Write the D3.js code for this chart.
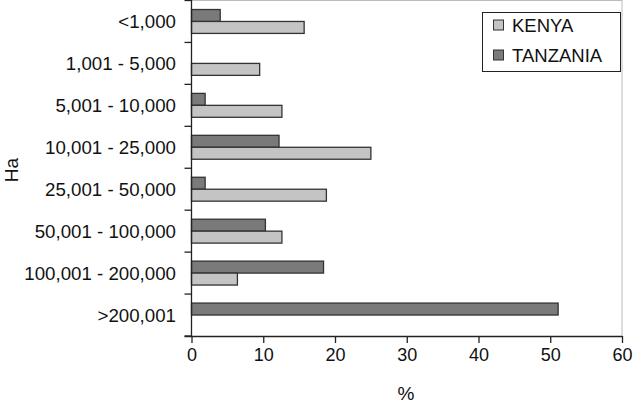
<!DOCTYPE html>
<html><head><meta charset="utf-8">
<script src="https://cdn.jsdelivr.net/npm/d3@7"></script>
<style>body{margin:0;background:#fff}svg{display:block}text{font-family:"Liberation Sans",Arial,sans-serif;fill:#111}</style>
</head><body><svg id="c" width="634" height="408"></svg>
<script>
const categories = ["<1,000","1,001 - 5,000","5,001 - 10,000","10,001 - 25,000","25,001 - 50,000","50,001 - 100,000","100,001 - 200,000",">200,001"];
const kenya = [15.7, 9.5, 12.6, 25.0, 18.8, 12.6, 6.4, 0];
const tanzania = [4.0, 0, 1.9, 12.2, 1.9, 10.3, 18.4, 51.1];
const xTicks = [0,10,20,30,40,50,60];
const seriesNames = ["KENYA","TANZANIA"];
const colors = {KENYA:"#c4c4c4", TANZANIA:"#7a7a7a"};

const svg = d3.select("#c");
const m = {l:191.5, r:622, t:0.5, b:336};
const x = d3.scaleLinear().domain([0,60]).range([m.l, m.r]);
const y = d3.scaleBand().domain(categories).range([m.t, m.b]).paddingInner(0.43).paddingOuter(0.215);
const sub = d3.scaleBand().domain(["TANZANIA","KENYA"]).range([0, y.bandwidth()]);

// plot frame (light)
svg.append("line").attr("x1",m.l).attr("x2",m.r).attr("y1",0.5).attr("y2",0.5).attr("stroke","#bbb");
svg.append("line").attr("x1",m.r).attr("x2",m.r).attr("y1",0).attr("y2",m.b).attr("stroke","#bbb");

const rows = categories.map((c,i)=>({c, KENYA:kenya[i], TANZANIA:tanzania[i]}));
const g = svg.append("g");
rows.forEach(r=>{
  ["TANZANIA","KENYA"].forEach(s=>{
    if (r[s] <= 0) return;
    g.append("rect").attr("x",x(0)).attr("y",y(r.c)+sub(s))
     .attr("width",x(r[s])-x(0)).attr("height",sub.bandwidth())
     .attr("fill",colors[s]).attr("stroke","#333").attr("stroke-width",1.3);
  });
});

// y axis
const ya = svg.append("g");
ya.append("line").attr("x1",m.l).attr("x2",m.l).attr("y1",0).attr("y2",m.b).attr("stroke","#222").attr("stroke-width",1.3);
for (let i=0;i<=categories.length;i++){
  const yy = m.t + i*(m.b-m.t)/categories.length;
  ya.append("line").attr("x1",m.l-7).attr("x2",m.l).attr("y1",yy).attr("y2",yy).attr("stroke","#222").attr("stroke-width",1.3);
}
categories.forEach((c,i)=>{
  const yc = m.t + (i+0.5)*(m.b-m.t)/categories.length;
  ya.append("text").attr("x",176).attr("y",yc).attr("dy","0.36em").attr("text-anchor","end").attr("font-size",18.7).text(c);
});

// x axis
const xa = svg.append("g").attr("transform",`translate(0,${m.b})`)
  .call(d3.axisBottom(x).tickValues(xTicks).tickSize(7).tickPadding(5).tickFormat(d3.format("d")));
xa.select(".domain").attr("stroke","#222").attr("stroke-width",1.3).attr("d",`M${m.l-7},0.5H${m.r}`);
xa.selectAll(".tick line").attr("stroke","#222").attr("stroke-width",1.3);
xa.selectAll(".tick text").attr("font-size",18).attr("font-family","Liberation Sans, Arial, sans-serif").attr("fill","#111");

svg.append("text").attr("x",406).attr("y",400).attr("text-anchor","middle").attr("font-size",19).text("%");
svg.append("text").attr("transform","translate(18,170) rotate(-90)").attr("text-anchor","middle").attr("font-size",19).text("Ha");

// legend
const lg = svg.append("g");
lg.append("rect").attr("x",482.5).attr("y",12.5).attr("width",138).attr("height",59).attr("fill","#fff").attr("stroke","#222");
seriesNames.forEach((s,i)=>{
  const yy = 25.5 + i*30;
  lg.append("rect").attr("x",493.5).attr("y",yy-5.5).attr("width",10).attr("height",10).attr("fill",colors[s]).attr("stroke","#333");
  lg.append("text").attr("x",512).attr("y",yy).attr("dy","0.36em").attr("font-size",18.5).text(s);
});
</script></body></html>
